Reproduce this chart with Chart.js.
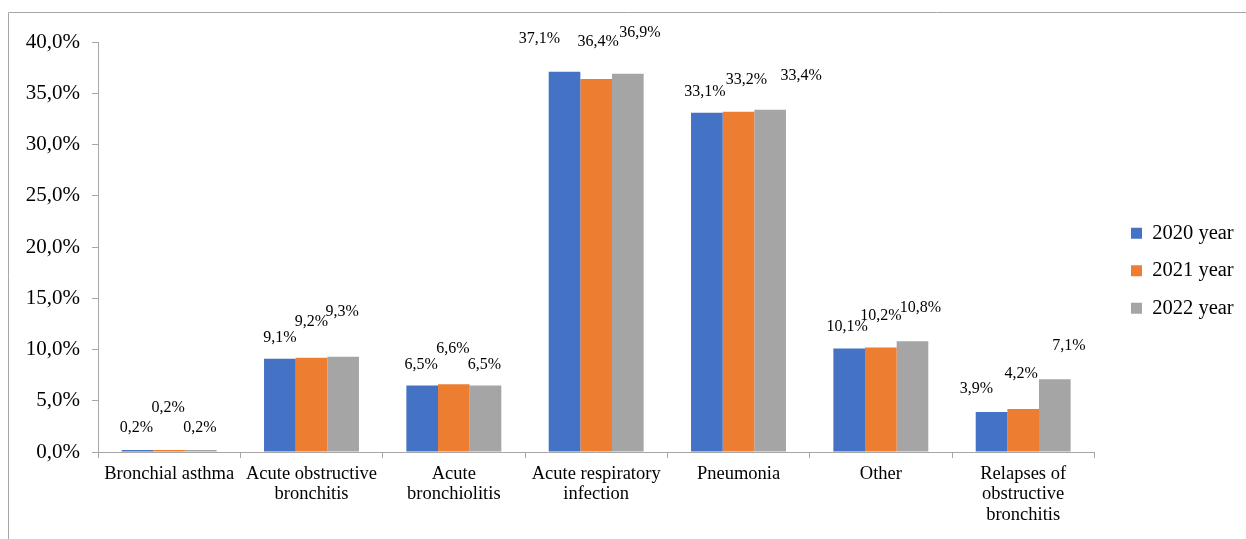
<!DOCTYPE html>
<html>
<head>
<meta charset="utf-8">
<script src="https://cdn.jsdelivr.net/npm/chart.js@4.4.0/dist/chart.umd.min.js"></script>
<style>
  html, body { margin: 0; padding: 0; background: #fff; }
  #wrap { width: 1246px; height: 539px; }
</style>
</head>
<body>
<div id="wrap"><canvas id="diseaseChart"></canvas></div>
<script>
const categories = [
    "Bronchial asthma",
    ["Acute obstructive", "bronchitis"],
    ["Acute", "bronchiolitis"],
    ["Acute respiratory", "infection"],
    "Pneumonia",
    "Other",
    ["Relapses of", "obstructive", "bronchitis"]
];
const seriesNames = ["2020 year", "2021 year", "2022 year"];
const values2020 = [0.2, 9.1, 6.5, 37.1, 33.1, 10.1, 3.9];
const values2021 = [0.2, 9.2, 6.6, 36.4, 33.2, 10.2, 4.2];
const values2022 = [0.2, 9.3, 6.5, 36.9, 33.4, 10.8, 7.1];

// label placement (dx, dy from bar top), as hand-moved in the original
const labelShift2020 = [[-1, -22], [0, -21], [-1, -21], [-25, -33], [-2, -21], [-2, -22], [-15, -23]];
const labelShift2021 = [[-1, -42], [0, -36], [-1, -36], [2, -37], [8, -32], [0, -32], [-2, -35]];
const labelShift2022 = [[-1, -22], [-1, -45], [-1, -21], [12, -41], [31, -34], [8, -34], [14, -33]];
const labelShifts = [labelShift2020, labelShift2021, labelShift2022];

const colors = ["#4472C4", "#ED7D31", "#A5A5A5"];
const axisGray = "#A6A6A6";
const serif = "'Liberation Serif', 'Times New Roman', serif";

const pct = (v) => v.toFixed(1).replace(".", ",") + "%";

// Thin frame around the chart (only top/left visible in the crop)
const framePlugin = {
    id: "frame",
    beforeDraw(chart) {
        const ctx = chart.ctx;
        ctx.save();
        ctx.strokeStyle = axisGray;
        ctx.lineWidth = 1;
        ctx.beginPath();
        ctx.moveTo(8.5, chart.height);
        ctx.lineTo(8.5, 12.5);
        ctx.lineTo(chart.width, 12.5);
        ctx.stroke();
        ctx.restore();
    }
};

// Value labels above the bars
const valueLabels = {
    id: "valueLabels",
    afterDatasetsDraw(chart) {
        const ctx = chart.ctx;
        ctx.save();
        ctx.font = "16px " + serif;
        ctx.fillStyle = "#000";
        ctx.textAlign = "center";
        ctx.textBaseline = "middle";
        chart.data.datasets.forEach((ds, di) => {
            chart.getDatasetMeta(di).data.forEach((bar, i) => {
                const [dx, dy] = labelShifts[di][i];
                ctx.fillText(pct(ds.data[i]), bar.x + dx, bar.y + dy);
            });
        });
        ctx.restore();
    }
};

// Move the legend where Excel put it
const legendPlace = {
    id: "legendPlace",
    afterLayout(chart) {
        const lg = chart.legend;
        const pad = lg.options.labels.padding;
        const w = lg.width, h = lg.height;
        lg.left = 1131 - pad;
        lg.right = lg.left + w;
        lg.top = 232 - 9 - pad;
        lg.bottom = lg.top + h;
    }
};

const ctx = document.getElementById("diseaseChart").getContext("2d");
const diseaseChart = new Chart(ctx, {
    type: "bar",
    data: {
        labels: categories,
        datasets: [
            { label: seriesNames[0], data: values2020, backgroundColor: colors[0] },
            { label: seriesNames[1], data: values2021, backgroundColor: colors[1] },
            { label: seriesNames[2], data: values2022, backgroundColor: colors[2] }
        ]
    },
    options: {
        responsive: true,
        maintainAspectRatio: false,
        devicePixelRatio: 1,
        animation: false,
        barPercentage: 1,
        categoryPercentage: 0.667,
        layout: { padding: { left: 0, top: 42, right: 22, bottom: 0 } },
        plugins: {
            tooltip: { enabled: false },
            legend: {
                position: "right",
                align: "start",
                labels: {
                    boxWidth: 11,
                    boxHeight: 11,
                    padding: 17,
                    color: "#000",
                    font: { family: serif, size: 20.5, lineHeight: 1.2 }
                }
            }
        },
        scales: {
            x: {
                grid: { drawOnChartArea: false, drawTicks: true, tickLength: 6, color: axisGray },
                border: { color: axisGray },
                ticks: {
                    color: "#000",
                    font: { family: serif, size: 18.5, lineHeight: 1.1 },
                    padding: 6,
                    maxRotation: 0,
                    autoSkip: false
                },
                afterFit(scale) { scale.height = 87; }
            },
            y: {
                min: 0,
                max: 40,
                grid: { drawOnChartArea: false, drawTicks: true, tickLength: 6, color: axisGray },
                border: { color: axisGray },
                ticks: {
                    stepSize: 5,
                    color: "#000",
                    font: { family: serif, size: 21 },
                    padding: 12,
                    callback: (v) => pct(v)
                },
                afterFit(scale) { scale.width = 98; }
            }
        }
    },
    plugins: [framePlugin, valueLabels, legendPlace]
});
</script>
</body>
</html>
